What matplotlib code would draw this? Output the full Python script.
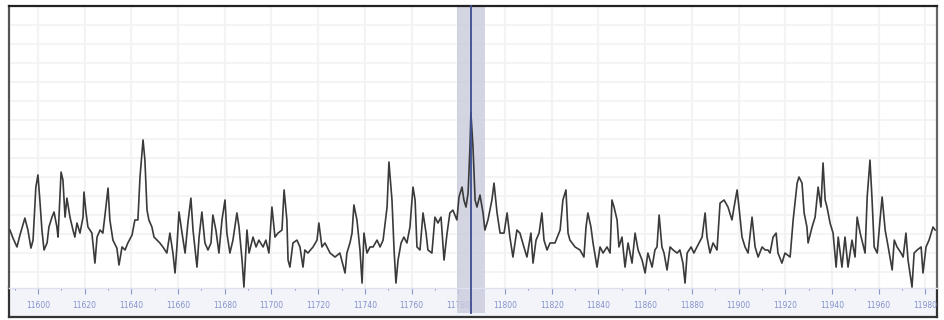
import numpy as np
import matplotlib
matplotlib.use("Agg")
import matplotlib.pyplot as plt
from matplotlib.ticker import MultipleLocator

# position (x) and signal level
pos = [
    11588.0, 11589.3, 11591.0, 11592.3, 11594.4, 11595.7, 11597.0, 11597.9, 11599.1, 11600.0,
    11600.9, 11601.7, 11602.6, 11603.9, 11604.7, 11606.0, 11606.9, 11608.1, 11608.6, 11609.9,
    11610.7, 11611.6, 11612.4, 11613.7, 11615.0, 11615.8, 11616.7, 11618.0, 11619.3, 11619.7,
    11620.6, 11621.4, 11623.1, 11624.4, 11625.3, 11626.6, 11627.8, 11629.1, 11630.0, 11630.8,
    11632.1, 11633.8, 11634.7, 11636.0, 11637.3, 11638.5, 11640.3, 11641.5, 11642.8, 11643.7,
    11645.0, 11645.8, 11646.7, 11647.5, 11648.8, 11649.7, 11651.0, 11652.2, 11653.5, 11655.2,
    11656.5, 11657.8, 11658.7, 11659.5, 11660.4, 11661.7, 11663.0, 11664.2, 11665.5, 11666.4,
    11668.1, 11669.0, 11670.2, 11671.5, 11672.8, 11674.1, 11674.9, 11676.2, 11677.5, 11678.8,
    11680.1, 11680.9, 11682.2, 11683.5, 11685.2, 11686.1, 11687.4, 11688.2, 11689.5, 11690.4,
    11692.1, 11693.4, 11694.6, 11696.4, 11697.6, 11698.9, 11700.2, 11701.5, 11702.8, 11704.5,
    11705.4, 11706.6, 11707.1, 11707.9, 11709.2, 11710.9, 11712.2, 11713.5, 11714.3, 11715.6,
    11717.8, 11719.5, 11720.3, 11721.6, 11722.9, 11725.1, 11727.2, 11729.3, 11731.5, 11732.3,
    11733.6, 11734.5, 11735.3, 11736.6, 11737.9, 11738.8, 11739.6, 11740.9, 11742.2, 11743.5,
    11745.2, 11746.5, 11747.8, 11749.5, 11750.3, 11751.6, 11752.5, 11753.3, 11754.2, 11755.5,
    11756.7, 11758.0, 11759.3, 11760.6, 11761.5, 11762.3, 11763.6, 11764.9, 11766.2, 11767.0,
    11768.7, 11770.0, 11771.3, 11772.6, 11773.9, 11775.2, 11776.4, 11777.7, 11779.4, 11780.3,
    11781.6, 11782.4, 11783.3, 11784.2, 11785.0, 11785.4, 11786.3, 11787.2, 11788.0, 11789.3,
    11790.6, 11791.4, 11792.7, 11794.4, 11795.3, 11796.6, 11797.9, 11799.6, 11800.9, 11802.1,
    11803.4, 11805.1, 11806.4, 11808.1, 11809.4, 11811.1, 11812.0, 11813.3, 11814.6, 11815.8,
    11816.7, 11818.0, 11819.3, 11821.4, 11823.6, 11824.8, 11826.1, 11827.0, 11827.8, 11830.0,
    11832.1, 11833.8, 11834.7, 11835.5, 11836.8, 11837.7, 11839.4, 11840.7, 11842.0, 11843.7,
    11845.0, 11845.8, 11846.7, 11848.0, 11848.8, 11850.1, 11851.4, 11852.7, 11854.4, 11855.7,
    11857.0, 11858.7, 11860.0, 11861.2, 11863.0, 11864.2, 11865.1, 11866.0, 11867.2, 11868.1,
    11869.4, 11870.7, 11872.0, 11873.7, 11874.9, 11876.2, 11877.1, 11878.0, 11879.7, 11880.9,
    11882.2, 11884.4, 11885.7, 11886.5, 11887.8, 11889.1, 11890.8, 11892.1, 11893.8, 11895.5,
    11897.2, 11898.1, 11899.4, 11900.2, 11901.5, 11902.8, 11904.1, 11905.8, 11907.1, 11908.4,
    11910.1, 11911.4, 11912.6, 11913.5, 11914.8, 11916.1, 11916.9, 11918.6, 11919.9, 11922.1,
    11923.4, 11925.1, 11925.9, 11927.2, 11928.1, 11929.3, 11929.8, 11931.5, 11932.8, 11934.1,
    11935.3, 11936.2, 11937.1, 11937.9, 11939.2, 11940.5, 11941.8, 11942.7, 11944.3, 11945.6,
    11946.9, 11948.6, 11949.9, 11950.8, 11952.1, 11954.2, 11955.1, 11956.3, 11957.2, 11958.1,
    11959.4, 11960.6, 11961.5, 11962.8, 11964.1, 11965.8, 11966.7, 11967.9, 11969.6, 11970.5,
    11971.7, 11972.6, 11974.3, 11975.2, 11976.5, 11978.2, 11979.0, 11980.3, 11981.6, 11983.3,
    11984.2,
]
level = [
    32.1, 27.9, 23.2, 29.5, 38.4, 32.1, 22.6, 26.8, 54.7, 61.1,
    46.3, 32.1, 21.6, 25.3, 33.7, 38.9, 41.6, 33.7, 28.4, 62.6,
    58.4, 38.9, 48.9, 38.9, 32.1, 28.4, 35.8, 30.5, 38.9, 52.1,
    41.1, 33.7, 30.5, 14.7, 28.4, 32.1, 30.5, 44.2, 54.2, 37.4,
    26.8, 22.6, 13.7, 23.2, 21.6, 25.3, 29.5, 37.4, 37.4, 60.0,
    79.5, 68.9, 42.6, 37.4, 33.7, 28.4, 26.8, 25.3, 23.2, 20.0,
    30.5, 20.0, 9.5, 23.2, 41.6, 30.5, 20.0, 35.8, 48.9, 32.1,
    12.6, 28.4, 41.6, 25.3, 21.6, 25.3, 40.0, 32.1, 20.0, 37.4,
    47.9, 30.5, 20.0, 26.8, 41.1, 33.7, 16.3, 2.1, 32.1, 20.0,
    28.4, 23.2, 26.8, 23.2, 26.8, 20.0, 44.2, 28.4, 30.5, 32.1,
    53.2, 37.4, 16.3, 12.6, 25.3, 26.8, 23.2, 12.6, 21.6, 20.0,
    23.2, 26.8, 35.8, 23.2, 25.3, 20.0, 17.9, 20.0, 9.5, 20.0,
    25.3, 30.5, 45.3, 37.4, 21.6, 4.2, 30.5, 20.0, 23.2, 23.2,
    26.8, 23.2, 26.8, 44.2, 67.9, 47.9, 21.6, 4.2, 16.3, 25.3,
    28.4, 25.3, 33.7, 54.7, 47.9, 23.2, 21.6, 41.1, 30.5, 21.6,
    20.0, 38.9, 35.8, 38.9, 16.3, 30.5, 41.1, 42.6, 37.4, 49.5,
    54.7, 47.9, 44.2, 51.6, 75.8, 93.7, 75.8, 47.9, 44.2, 50.5,
    41.1, 32.1, 37.4, 47.9, 56.8, 41.1, 30.5, 30.5, 41.1, 28.4,
    17.9, 32.1, 30.5, 23.2, 17.9, 30.5, 14.7, 26.8, 30.5, 41.1,
    26.8, 21.6, 25.3, 25.3, 32.1, 47.9, 53.2, 30.5, 26.8, 23.2,
    21.6, 17.9, 33.7, 41.1, 33.7, 25.3, 12.6, 23.2, 20.0, 23.2,
    20.0, 47.9, 44.2, 37.4, 23.2, 28.4, 12.6, 25.3, 14.7, 30.5,
    21.6, 16.3, 9.5, 20.0, 12.6, 21.6, 23.2, 40.0, 23.2, 20.0,
    11.1, 23.2, 21.6, 20.0, 21.6, 14.7, 4.2, 20.0, 23.2, 20.0,
    23.2, 28.4, 41.1, 28.4, 20.0, 25.3, 21.6, 46.3, 47.9, 44.2,
    37.4, 44.2, 53.2, 44.2, 28.4, 23.2, 20.0, 38.9, 23.2, 17.9,
    23.2, 21.6, 21.6, 20.0, 28.4, 30.5, 20.0, 14.7, 20.0, 17.9,
    37.4, 56.8, 60.0, 56.8, 41.1, 33.7, 25.3, 33.7, 38.9, 54.7,
    44.2, 67.4, 47.9, 44.2, 35.8, 30.5, 12.6, 28.4, 12.6, 28.4,
    12.6, 26.8, 17.9, 38.9, 30.5, 20.0, 49.5, 68.9, 47.9, 23.2,
    20.0, 37.4, 49.5, 32.1, 23.2, 11.1, 26.8, 23.2, 20.0, 17.9,
    30.5, 16.3, 2.1, 20.0, 21.6, 23.2, 9.5, 23.2, 26.8, 33.7,
    32.1,
]

# selected window and cursor
sel_start, sel_end = 11779.4, 11791.4
cursor = 11785.4

fig = plt.figure(figsize=(9.44, 3.2), dpi=100)
W, H = 944.0, 320.0
# main plot area and the axis strip underneath
ax = fig.add_axes([9 / W, (320 - 288) / H, 928 / W, 282 / H])
band = fig.add_axes([9 / W, 3 / H, 928 / W, 29 / H], sharex=ax)
ax.set_zorder(2)
band.set_zorder(1)

ax.plot(pos, level, color="#3a3a3a", lw=1.2, zorder=3)

ax.set_xlim(11587.6, 11985.0)
ax.set_ylim(1.6, 150)

ax.xaxis.set_major_locator(MultipleLocator(20))
ax.xaxis.set_minor_locator(MultipleLocator(10))
ax.yaxis.set_major_locator(MultipleLocator(10))
ax.set_axisbelow(True)
ax.grid(True, which="major", axis="x", color="#f3f3f3", lw=1.6)
ax.grid(True, which="major", axis="y", color="#f5f1f1", lw=1.2)
ax.tick_params(axis="y", left=False, labelleft=False)
ax.tick_params(axis="x", which="major", direction="out", length=4, width=0.8,
               color="#8a96c8", labelsize=5.5, labelcolor="#8392cc", pad=5)
ax.tick_params(axis="x", which="minor", direction="out", length=1.5, width=0.8,
               color="#8a96c8")
ax.xaxis.set_major_formatter(matplotlib.ticker.FuncFormatter(lambda v, p: "%d" % v))

# selection shading and cursor, running down into the axis strip
ext = -25 / 282.0
ax.axvspan(sel_start, sel_end, ymin=ext, ymax=1, color="#c9cbdd", alpha=0.8,
           zorder=1, clip_on=False, lw=0)
ax.axvline(cursor, ymin=ext, ymax=1, color="#3f4d93", lw=1.3, zorder=4, clip_on=False)

for s in ["top", "left", "right"]:
    ax.spines[s].set_color("#222222")
    ax.spines[s].set_linewidth(1.6)
ax.spines["left"].set_color("#555555")
ax.spines["right"].set_color("#666666")
ax.spines["bottom"].set_color("#dfe2ee")
ax.spines["bottom"].set_linewidth(1.0)

band.set_facecolor("#f3f4f9")
band.tick_params(axis="both", which="both", bottom=False, left=False,
                 labelbottom=False, labelleft=False)
band.spines["top"].set_visible(False)
for s in ["bottom", "left", "right"]:
    band.spines[s].set_color("#333333")
    band.spines[s].set_linewidth(1.6)

fig.savefig("out.png", dpi=100)
